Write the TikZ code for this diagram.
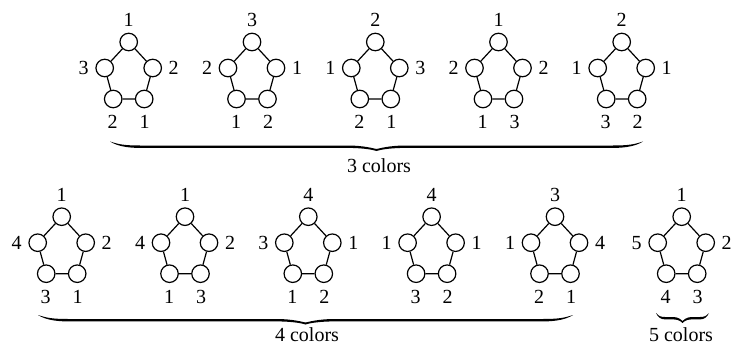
\documentclass[tikz,border=0pt]{standalone}
\usepackage{fontspec}
\setmainfont{Liberation Serif}
\begin{document}
\begin{tikzpicture}[x=1pt,y=-1pt]
\tikzset{
  vtx/.style={circle,draw,line width=1.2pt,minimum size=17.5pt,inner sep=0pt},
  link/.style={line width=1.2pt},
  lbl/.style={font=\fontsize{20}{24}\selectfont,inner sep=0pt},
}
% A five-cycle with a colour number beside each vertex.
% #1 name prefix, #2/#3 position of the top vertex, #4..#8 labels
% (top, left, right, bottom left, bottom right)
\newcommand\pent[8]{%
  \begin{scope}[shift={(#2,#3)}]
    \node[vtx] (#1a) at (0,0) {};
    \node[vtx] (#1b) at (-24,26) {};
    \node[vtx] (#1c) at (24,26) {};
    \node[vtx] (#1d) at (-15.5,57) {};
    \node[vtx] (#1e) at (15.5,57) {};
    \draw[link] (#1a)--(#1b) (#1a)--(#1c) (#1b)--(#1d) (#1c)--(#1e) (#1d)--(#1e);
    \node[lbl] (#1A) at (0,-22) {#4};
    \node[lbl] (#1B) at (-45,26) {#5};
    \node[lbl] (#1C) at (45,26) {#6};
    \node[lbl] (#1D) at (-16,80) {#7};
    \node[lbl] (#1E) at (16,80) {#8};
  \end{scope}}
% Tapered curly brace opening upwards.
% #1 left end x, #2 right end x, #3 end y, #4 tip depth, #5 curl length
\newcommand\fillbrace[5]{%
  \pgfmathsetmacro\bxm{(#1+#2)/2}%
  \pgfmathsetmacro\byF{#3+4}%
  \pgfmathsetmacro\byG{#3+6.4}%
  \pgfmathsetmacro\byT{#3+#4}%
  \fill (#1,#3)
    .. controls (#1+0.3*#5,#3+3) and (#1+0.5*#5,\byF) .. (#1+#5,\byF)
    -- (\bxm-#5,\byF)
    .. controls (\bxm-0.4*#5,\byF) and (\bxm-0.1*#5,\byT-2.5) .. (\bxm,\byT-2)
    .. controls (\bxm+0.1*#5,\byT-2.5) and (\bxm+0.4*#5,\byF) .. (\bxm+#5,\byF)
    -- (#2-#5,\byF)
    .. controls (#2-0.5*#5,\byF) and (#2-0.3*#5,#3+3) .. (#2,#3)
    .. controls (#2-0.2*#5,#3+3.8) and (#2-0.5*#5,\byG) .. (#2-#5,\byG)
    -- (\bxm+#5,\byG)
    .. controls (\bxm+0.4*#5,\byG) and (\bxm+0.1*#5,\byT-1) .. (\bxm,\byT)
    .. controls (\bxm-0.1*#5,\byT-1) and (\bxm-0.4*#5,\byG) .. (\bxm-#5,\byG)
    -- (#1+#5,\byG)
    .. controls (#1+0.5*#5,\byG) and (#1+0.2*#5,#3+3.8) .. (#1,#3)
    -- cycle;}
\useasboundingbox (0,0) rectangle (731,345);

% upper row: three colours
\pent{p}{128.7}{42}{1}{3}{2}{2}{1}
\pent{q}{252}{42}{3}{2}{1}{1}{2}
\pent{r}{375.3}{42}{2}{1}{3}{2}{1}
\pent{s}{498.5}{42}{1}{2}{2}{1}{3}
\pent{t}{621.7}{42}{2}{1}{1}{3}{2}
\fillbrace{110}{643}{141.5}{9.5}{30}
\node[lbl] (three) at (379,166) {3 colors};

% lower row: four colours, then five
\pent{u}{61.7}{216.7}{1}{4}{2}{3}{1}
\pent{v}{185}{216.7}{1}{4}{2}{1}{3}
\pent{w}{308.3}{216.7}{4}{3}{1}{1}{2}
\pent{x}{431.6}{216.7}{4}{1}{1}{3}{2}
\pent{y}{555}{216.7}{3}{1}{4}{2}{1}
\fillbrace{38}{573}{315}{9.5}{30}
\node[lbl] (four) at (307,334.5) {4 colors};

\pent{z}{681.7}{216.7}{1}{5}{2}{4}{3}
\fillbrace{656}{709}{313}{10}{9}
\node[lbl] (five) at (681,334.5) {5 colors};
\end{tikzpicture}
\end{document}
